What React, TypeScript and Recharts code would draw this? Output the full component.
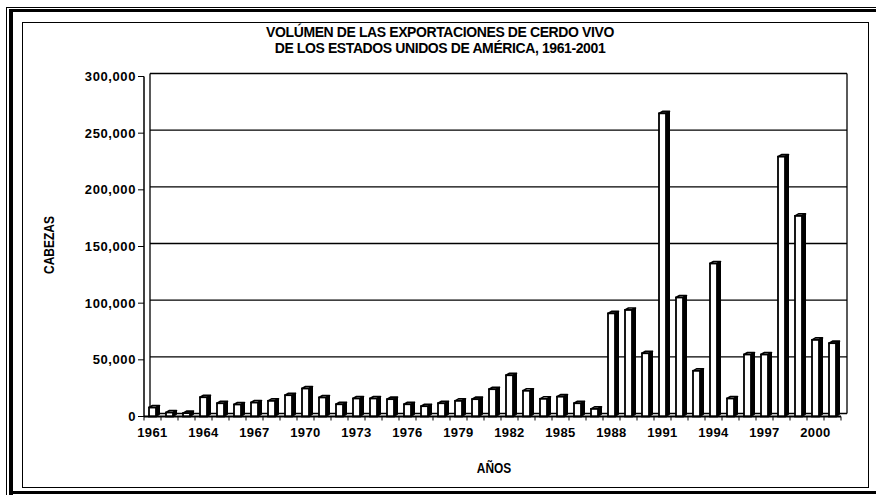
import React from 'react';
import { BarChart, Bar, XAxis, YAxis, CartesianGrid } from 'recharts';

const years: string[] = [
  '1961','1962','1963','1964','1965','1966','1967','1968','1969','1970',
  '1971','1972','1973','1974','1975','1976','1977','1978','1979','1980',
  '1981','1982','1983','1984','1985','1986','1987','1988','1989','1990',
  '1991','1992','1993','1994','1995','1996','1997','1998','1999','2000','2001',
];

const cabezas: number[] = [
  7900, 3500, 3000, 17000, 11700, 10600, 12300, 13800, 18800, 24700,
  16800, 10800, 15900, 15900, 15300, 10800, 9100, 11700, 13800, 15300,
  24100, 36400, 22700, 15600, 17500, 11700, 6700, 91000, 94000, 55800,
  267500, 105000, 40300, 135000, 15900, 54700, 54700, 229300, 177000, 67600, 64700,
];

const yTicks: number[] = [0, 50000, 100000, 150000, 200000, 250000, 300000];

const titleLine1 = 'VOLÚMEN DE LAS EXPORTACIONES DE CERDO VIVO';
const titleLine2 = 'DE LOS ESTADOS UNIDOS DE AMÉRICA, 1961-2001';
const yLabel = 'CABEZAS';
const xLabel = 'AÑOS';

const data = years.map((y, i) => ({ year: y, value: cabezas[i] }));

const FONT = '"Liberation Sans", Arial, sans-serif';

const Bar3D = (props: any) => {
  const { x, y, width, height } = props;
  if (height == null || width == null) return null;
  const d = 3.5;
  const dy = 2;
  return (
    <g>
      <polygon
        points={`${x + width},${y} ${x + width + d},${y - dy} ${x + width + d},${y + height - dy} ${x + width},${y + height}`}
        fill="#000"
        stroke="#000"
        strokeWidth={1}
      />
      <polygon
        points={`${x},${y} ${x + d},${y - dy} ${x + width + d},${y - dy} ${x + width},${y}`}
        fill="#fff"
        stroke="#000"
        strokeWidth={1.6}
        strokeLinejoin="round"
      />
      <rect x={x} y={y} width={width} height={height} fill="#fff" stroke="#000" strokeWidth={1.8} />
    </g>
  );
};

const XTick = (props: any) => {
  const { x, y, payload, index, visibleTicksCount } = props;
  const half = payload && payload.offset ? payload.offset : 8.5;
  const showLabel = index % 3 === 0;
  const last = visibleTicksCount ? index === visibleTicksCount - 1 : index === years.length - 1;
  return (
    <g>
      <line x1={x - half} y1={y} x2={x - half} y2={y + 4} stroke="#000" strokeWidth={1} />
      {last && <line x1={x + half} y1={y} x2={x + half} y2={y + 4} stroke="#000" strokeWidth={1} />}
      {showLabel && (
        <text
          x={x}
          y={y + 16}
          textAnchor="middle"
          dominantBaseline="central"
          fontFamily={FONT}
          fontWeight="bold"
          fontSize={13}
          letterSpacing={0.4}
          fill="#000"
        >
          {payload.value}
        </text>
      )}
    </g>
  );
};

const YTick = (props: any) => {
  const { x, y, payload } = props;
  return (
    <text
      x={x}
      y={y}
      textAnchor="end"
      dominantBaseline="central"
      fontFamily={FONT}
      fontWeight="bold"
      fontSize={13}
      letterSpacing={0.6}
      fill="#000"
    >
      {Number(payload.value).toLocaleString('en-US')}
    </text>
  );
};

export default function App() {
  return (
    <div
      style={{
        position: 'absolute',
        left: 0,
        top: 0,
        width: 876,
        height: 495,
        background: '#fff',
        overflow: 'hidden',
        fontFamily: FONT,
      }}
    >
      <style>{`.recharts-cartesian-grid { transform: translate(6px, -3px); }`}</style>
      <div style={{ position: 'absolute', left: 6, top: 7, width: 880, height: 0, borderTop: '1px solid #000' }} />
      <div style={{ position: 'absolute', left: 6, top: 7, width: 0, height: 490, borderLeft: '1px solid #000' }} />
      <div style={{ position: 'absolute', left: 9, top: 9, width: 880, height: 3, background: '#000' }} />
      <div style={{ position: 'absolute', left: 9, top: 9, width: 4, height: 490, background: '#000' }} />
      <div style={{ position: 'absolute', left: 9, top: 491, width: 880, height: 3, background: '#000' }} />
      <div
        style={{
          position: 'absolute',
          left: 22,
          top: 22,
          width: 847,
          height: 466,
          border: '1.5px solid #000',
          boxSizing: 'border-box',
        }}
      />
      <div style={{ position: 'absolute', left: 0, top: 0, width: 876, height: 495 }}>
        <BarChart
          width={876}
          height={495}
          data={data}
          margin={{ top: 76.5, right: 35, bottom: 0, left: 0 }}
          barSize={7}
        >
          <CartesianGrid
            stroke="#000"
            strokeWidth={1.3}
            horizontal={true}
            vertical={true}
            verticalCoordinatesGenerator={(p: any) => [p.offset.left, p.offset.left + p.offset.width]}
          />
          <XAxis
            dataKey="year"
            interval={0}
            tickLine={false}
            tickSize={0}
            tickMargin={0}
            axisLine={{ stroke: '#000', strokeWidth: 2 }}
            tick={<XTick />}
            height={78.5}
          />
          <YAxis
            width={144}
            domain={[0, 300000]}
            ticks={yTicks}
            interval={0}
            tickSize={6}
            tickMargin={2}
            axisLine={{ stroke: '#000', strokeWidth: 1.5 }}
            tickLine={{ stroke: '#000', strokeWidth: 1 }}
            tick={<YTick />}
          />
          <Bar dataKey="value" isAnimationActive={false} shape={<Bar3D />} />
        </BarChart>
      </div>
      <div
        style={{
          position: 'absolute',
          left: 240,
          width: 400,
          top: 24,
          textAlign: 'center',
          fontWeight: 'bold',
          fontSize: 14,
          lineHeight: '16px',
          letterSpacing: -0.4,
          color: '#000',
        }}
      >
        <div>{titleLine1}</div>
        <div>{titleLine2}</div>
      </div>
      <div
        style={{
          position: 'absolute',
          left: 48,
          top: 245,
          transform: 'translate(-50%, -50%) rotate(-90deg) scaleX(0.8)',
          fontWeight: 'bold',
          fontSize: 15,
          whiteSpace: 'nowrap',
          color: '#000',
        }}
      >
        {yLabel}
      </div>
      <div
        style={{
          position: 'absolute',
          left: 494,
          top: 468,
          transform: 'translate(-50%, -50%) scaleX(0.85)',
          fontWeight: 'bold',
          fontSize: 14,
          whiteSpace: 'nowrap',
          color: '#000',
        }}
      >
        {xLabel}
      </div>
    </div>
  );
}
